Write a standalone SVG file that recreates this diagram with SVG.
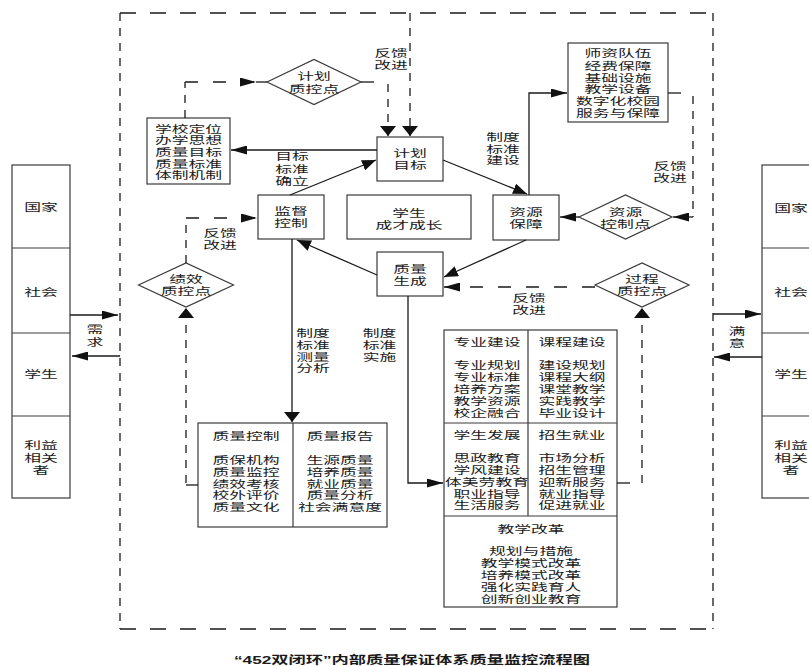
<svg xmlns="http://www.w3.org/2000/svg" width="809" height="666" viewBox="0 0 809 666">
<style>
.t{font-family:"Noto Sans CJK SC","Noto Sans",sans-serif;font-size:10.5px;fill:#1a1a1a;text-anchor:middle;dominant-baseline:central;transform-box:fill-box;transform-origin:center;transform:scaleX(1.6)}
.cap{font-family:"Liberation Sans","Noto Sans CJK SC",sans-serif;font-size:11.5px;font-weight:bold;fill:#1a1a1a;text-anchor:middle;dominant-baseline:central;transform-box:fill-box;transform-origin:center;transform:scaleX(1.5)}
.box{fill:#fff;stroke:#3a3a3a;stroke-width:1.2}
.ln{fill:none;stroke:#3a3a3a;stroke-width:1.2}
.c{fill:none;stroke:#1a1a1a;stroke-width:1.3}
.dh{fill:none;stroke:#1a1a1a;stroke-width:1.3;stroke-dasharray:13 15}
.dv{fill:none;stroke:#1a1a1a;stroke-width:1.3;stroke-dasharray:8 7}
.bh{fill:none;stroke:#1a1a1a;stroke-width:1.3;stroke-dasharray:16 14}
.bv{fill:none;stroke:#1a1a1a;stroke-width:1.3;stroke-dasharray:8 7}
.ah{marker-end:url(#aH)}
.av{marker-end:url(#aV)}
.ad{marker-end:url(#aD)}
</style>
<defs>
<marker id="aH" markerUnits="userSpaceOnUse" markerWidth="16" markerHeight="9" refX="16" refY="4.5" orient="auto"><path d="M0,0 L16,4.5 L0,9 z" fill="#111"/></marker>
<marker id="aV" markerUnits="userSpaceOnUse" markerWidth="10" markerHeight="16" refX="10" refY="8" orient="auto"><path d="M0,0 L10,8 L0,16 z" fill="#111"/></marker>
<marker id="aD" markerUnits="userSpaceOnUse" markerWidth="14" markerHeight="11" refX="14" refY="5.5" orient="auto"><path d="M0,0 L14,5.5 L0,11 z" fill="#111"/></marker>
</defs>
<rect width="809" height="666" fill="#fff"/>

<g id="outer-boundary">
<line x1="120" y1="13" x2="713" y2="13" class="bh"/>
<line x1="120" y1="629" x2="713" y2="629" class="bh"/>
<line x1="120" y1="13" x2="120" y2="629" class="bv"/>
<line x1="713" y1="13" x2="713" y2="629" class="bv"/>
</g>

<g id="stakeholders-left">
<rect x="12" y="165" width="58" height="333" class="box"/>
<line x1="12" y1="248" x2="70" y2="248" class="ln"/>
<line x1="12" y1="333" x2="70" y2="333" class="ln"/>
<line x1="12" y1="416" x2="70" y2="416" class="ln"/>
<text x="41" y="207" class="t">国家</text>
<text x="41" y="292" class="t">社会</text>
<text x="41" y="374" class="t">学生</text>
<text x="41" y="445" class="t">利益</text>
<text x="41" y="457.5" class="t">相关</text>
<text x="41" y="469.5" class="t">者</text>
</g>

<g id="stakeholders-right">
<rect x="762" y="165" width="60" height="333" class="box"/>
<line x1="762" y1="248" x2="822" y2="248" class="ln"/>
<line x1="762" y1="333" x2="822" y2="333" class="ln"/>
<line x1="762" y1="416" x2="822" y2="416" class="ln"/>
<text x="791" y="208" class="t">国家</text>
<text x="791" y="292" class="t">社会</text>
<text x="791" y="374" class="t">学生</text>
<text x="791" y="445" class="t">利益</text>
<text x="791" y="457.5" class="t">相关</text>
<text x="791" y="469.5" class="t">者</text>
</g>

<g id="school-positioning">
<rect x="147" y="118" width="83" height="66" class="box"/>
<text x="188.5" y="128.3" class="t">学校定位</text>
<text x="188.5" y="140" class="t">办学思想</text>
<text x="188.5" y="151.7" class="t">质量目标</text>
<text x="188.5" y="163.3" class="t">质量标准</text>
<text x="188.5" y="175" class="t">体制机制</text>
</g>

<g id="plan-control-point">
<polygon points="267,82 314,59.5 361,82 314,104.5" class="box"/>
<text x="314" y="76" class="t">计划</text>
<text x="314" y="88.5" class="t">质控点</text>
</g>

<g id="plan-target">
<rect x="377" y="137" width="66" height="44" class="box"/>
<text x="410" y="153" class="t">计划</text>
<text x="410" y="165" class="t">目标</text>
</g>

<g id="supervision">
<rect x="258" y="195" width="66" height="44" class="box"/>
<text x="291" y="211" class="t">监督</text>
<text x="291" y="223" class="t">控制</text>
</g>

<g id="student-growth">
<rect x="347" y="195" width="124" height="44" class="box"/>
<text x="409" y="213" class="t">学生</text>
<text x="409" y="225" class="t">成才成长</text>
</g>

<g id="resource-guarantee">
<rect x="493" y="195" width="66" height="45" class="box"/>
<text x="526" y="212" class="t">资源</text>
<text x="526" y="224" class="t">保障</text>
</g>

<g id="resources-list">
<rect x="568" y="43" width="100" height="79" class="box"/>
<text x="618" y="52.7" class="t">师资队伍</text>
<text x="618" y="65.7" class="t">经费保障</text>
<text x="618" y="77.3" class="t">基础设施</text>
<text x="618" y="89" class="t">教学设备</text>
<text x="618" y="100.3" class="t">数字化校园</text>
<text x="618" y="112.3" class="t">服务与保障</text>
</g>

<g id="resource-control-point">
<polygon points="579,217 625.5,195 672,217 625.5,239" class="box"/>
<text x="625.5" y="211.5" class="t">资源</text>
<text x="625.5" y="223.5" class="t">控制点</text>
</g>

<g id="quality-generation">
<rect x="377" y="252" width="66" height="44" class="box"/>
<text x="410" y="269" class="t">质量</text>
<text x="410" y="281" class="t">生成</text>
</g>

<g id="performance-control-point">
<polygon points="138.5,285 186,263 233.5,285 186,307" class="box"/>
<text x="186" y="278.5" class="t">绩效</text>
<text x="186" y="290.5" class="t">质控点</text>
</g>

<g id="process-control-point">
<polygon points="595,285 642,263 689,285 642,307" class="box"/>
<text x="642" y="278.5" class="t">过程</text>
<text x="642" y="290.5" class="t">质控点</text>
</g>

<g id="quality-control-report">
<rect x="198" y="423" width="189" height="104" class="box"/>
<line x1="293" y1="423" x2="293" y2="527" class="ln"/>
<text x="246" y="436" class="t">质量控制</text>
<text x="246" y="460" class="t">质保机构</text>
<text x="246" y="471.7" class="t">质量监控</text>
<text x="246" y="483.3" class="t">绩效考核</text>
<text x="246" y="495" class="t">校外评价</text>
<text x="246" y="506.7" class="t">质量文化</text>
<text x="340" y="436" class="t">质量报告</text>
<text x="340" y="460" class="t">生源质量</text>
<text x="340" y="471.7" class="t">培养质量</text>
<text x="340" y="483.3" class="t">就业质量</text>
<text x="340" y="495" class="t">质量分析</text>
<text x="340" y="506.7" class="t">社会满意度</text>
</g>

<g id="construction-box">
<rect x="444" y="330" width="173" height="277" class="box"/>
<line x1="528" y1="330" x2="528" y2="516" class="ln"/>
<line x1="444" y1="423" x2="617" y2="423" class="ln"/>
<line x1="444" y1="516" x2="617" y2="516" class="ln"/>
<text x="487" y="341.7" class="t">专业建设</text>
<text x="487" y="365" class="t">专业规划</text>
<text x="487" y="376.8" class="t">专业标准</text>
<text x="487" y="388.6" class="t">培养方案</text>
<text x="487" y="400.4" class="t">教学资源</text>
<text x="487" y="412.2" class="t">校企融合</text>
<text x="572" y="341.7" class="t">课程建设</text>
<text x="572" y="365" class="t">建设规划</text>
<text x="572" y="376.8" class="t">课程大纲</text>
<text x="572" y="388.6" class="t">课堂教学</text>
<text x="572" y="400.4" class="t">实践教学</text>
<text x="572" y="412.2" class="t">毕业设计</text>
<text x="487" y="435" class="t">学生发展</text>
<text x="487" y="457.3" class="t">思政教育</text>
<text x="487" y="469.3" class="t">学风建设</text>
<text x="487" y="481.5" class="t">体美劳教育</text>
<text x="487" y="493.3" class="t">职业指导</text>
<text x="487" y="505" class="t">生活服务</text>
<text x="572" y="435" class="t">招生就业</text>
<text x="572" y="457.3" class="t">市场分析</text>
<text x="572" y="469.3" class="t">招生管理</text>
<text x="572" y="481.5" class="t">迎新服务</text>
<text x="572" y="493.3" class="t">就业指导</text>
<text x="572" y="505" class="t">促进就业</text>
<text x="531" y="528.3" class="t">教学改革</text>
<text x="531" y="550.7" class="t">规划与措施</text>
<text x="531" y="562.7" class="t">教学模式改革</text>
<text x="531" y="574.7" class="t">培养模式改革</text>
<text x="531" y="586.7" class="t">强化实践育人</text>
<text x="531" y="598.3" class="t">创新创业教育</text>
</g>

<g id="connectors">
<line x1="70" y1="315" x2="118" y2="315" class="c ah"/>
<line x1="120" y1="356" x2="72" y2="356" class="c ah"/>
<line x1="713" y1="314" x2="761" y2="314" class="c ah"/>
<line x1="762" y1="357" x2="714" y2="357" class="c ah"/>
<line x1="377" y1="150" x2="231" y2="150" class="c ah"/>
<line x1="185" y1="118" x2="185" y2="82" class="dv"/>
<line x1="185" y1="82" x2="256" y2="82" class="dh ah"/>
<line x1="256" y1="82" x2="267" y2="82" class="c"/>
<line x1="361" y1="82" x2="388" y2="82" class="dh"/>
<line x1="388" y1="84" x2="388" y2="136" class="dv av"/>
<line x1="410" y1="13" x2="410" y2="136" class="dv av"/>
<line x1="443" y1="160" x2="527" y2="194" class="c ad"/>
<polyline points="529,195 529,93 567,93" class="c ah"/>
<line x1="668" y1="93" x2="693" y2="93" class="dh"/>
<line x1="693" y1="96" x2="693" y2="217" class="dv"/>
<line x1="693" y1="217" x2="673" y2="217" class="c ah"/>
<line x1="579" y1="217" x2="560" y2="217" class="c ah"/>
<line x1="526" y1="240" x2="444" y2="277" class="c ad"/>
<line x1="595" y1="287" x2="444" y2="287" class="dh ah"/>
<line x1="377" y1="275" x2="297" y2="240" class="c ad"/>
<line x1="290" y1="195" x2="376" y2="160" class="c ad"/>
<line x1="292" y1="239" x2="292" y2="422" class="c av"/>
<polyline points="408,296 408,483 443,483" class="c ah"/>
<line x1="198" y1="485" x2="186" y2="485" class="c"/>
<line x1="186" y1="483" x2="186" y2="308" class="dv av"/>
<line x1="186" y1="263" x2="186" y2="218" class="dv"/>
<line x1="186" y1="218" x2="257" y2="218" class="dh ah"/>
<line x1="617" y1="483" x2="630" y2="483" class="c"/>
<line x1="642" y1="483" x2="642" y2="308" class="dv av"/>
</g>

<g id="labels">
<text x="95" y="329" class="t">需</text>
<text x="95" y="342" class="t">求</text>
<text x="737" y="331" class="t">满</text>
<text x="737" y="343" class="t">意</text>
<text x="391" y="53" class="t">反馈</text>
<text x="391" y="65" class="t">改进</text>
<text x="292" y="156" class="t">目标</text>
<text x="292" y="169" class="t">标准</text>
<text x="292" y="181" class="t">确立</text>
<text x="503" y="137" class="t">制度</text>
<text x="503" y="148.5" class="t">标准</text>
<text x="503" y="160" class="t">建设</text>
<text x="670" y="166" class="t">反馈</text>
<text x="670" y="178" class="t">改进</text>
<text x="220" y="233" class="t">反馈</text>
<text x="220" y="245" class="t">改进</text>
<text x="529" y="298" class="t">反馈</text>
<text x="529" y="310" class="t">改进</text>
<text x="313" y="333" class="t">制度</text>
<text x="313" y="345" class="t">标准</text>
<text x="313" y="356.5" class="t">测量</text>
<text x="313" y="368" class="t">分析</text>
<text x="379.5" y="333" class="t">制度</text>
<text x="379.5" y="345" class="t">标准</text>
<text x="379.5" y="356.5" class="t">实施</text>
<text x="412" y="660" class="cap">“452双闭环”内部质量保证体系质量监控流程图</text>
</g>
</svg>
